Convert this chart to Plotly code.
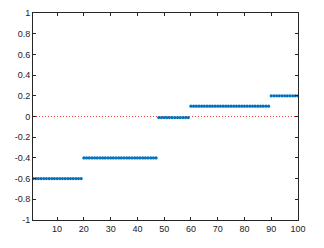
import plotly.graph_objects as go

seg_starts = [1, 20, 48, 60, 90]
seg_ends = [19, 47, 59, 89, 100]
seg_values = [-0.6, -0.4, -0.01, 0.1, 0.2]

x = []
y = []
for s, e, v in zip(seg_starts, seg_ends, seg_values):
    for i in range(s, e + 1):
        x.append(i)
        y.append(v)

ref_x = [1, 100]
ref_y = [0, 0]

x_ticks = [10, 20, 30, 40, 50, 60, 70, 80, 90, 100]
y_ticks = [-1, -0.8, -0.6, -0.4, -0.2, 0, 0.2, 0.4, 0.6, 0.8, 1]
y_labels = ["-1", "-0.8", "-0.6", "-0.4", "-0.2", "0", "0.2", "0.4", "0.6", "0.8", "1"]

fig = go.Figure()
fig.add_trace(go.Scatter(x=ref_x, y=ref_y, mode="lines",
                         line=dict(color="#F04040", width=1, dash="1px,2px"),
                         showlegend=False, hoverinfo="skip"))
fig.add_trace(go.Scatter(x=x, y=y, mode="markers",
                         marker=dict(color="#0072BD", size=3.2),
                         showlegend=False))

axis_common = dict(showgrid=False, zeroline=False, showline=True, linecolor="#262626",
                   linewidth=1, mirror="ticks", ticks="inside", ticklen=3,
                   tickcolor="#262626", tickfont=dict(family="Liberation Sans, Arial", size=9, color="#222222"))

fig.update_xaxes(range=[1, 100], tickvals=x_ticks, **axis_common)
fig.update_yaxes(range=[-1, 1], tickvals=y_ticks, ticktext=y_labels, **axis_common)

fig.update_layout(width=324, height=248, margin=dict(l=33, r=26, t=8, b=28),
                  plot_bgcolor="white", paper_bgcolor="white")

fig.write_html("out.html", config={"displayModeBar": False},
               post_script="document.body.style.margin='0';document.body.style.overflow='hidden';")
